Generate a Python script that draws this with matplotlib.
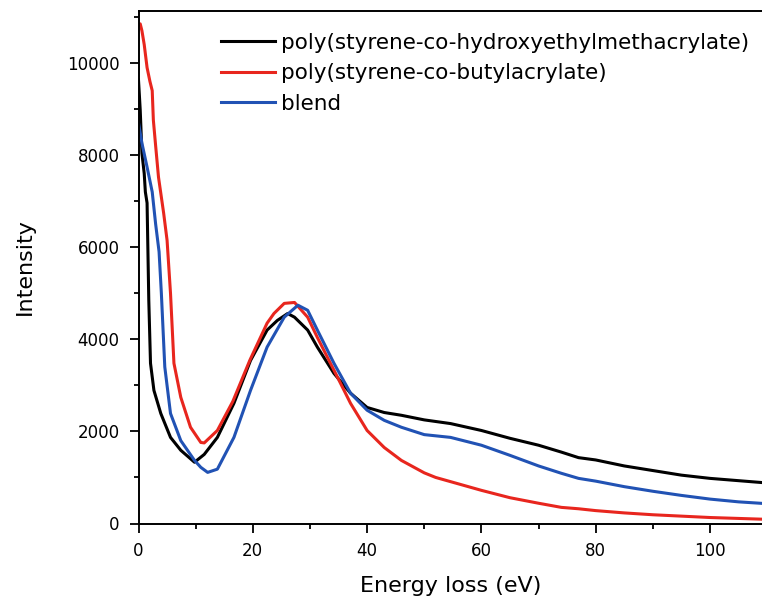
import matplotlib
matplotlib.use("Agg")
import matplotlib.pyplot as plt
from matplotlib.ticker import MultipleLocator

# poly(styrene-co-hydroxyethylmethacrylate)
e_hema = [0, 0.3, 0.6, 1.0, 1.2, 1.5, 1.8, 2.1, 2.7, 3.9, 5.6, 7.4, 9.8, 11.5,
          13.8, 16.7, 19.6, 22.5, 24.3, 26.1, 27.3, 29.6, 31.3, 34.2, 37.1, 40,
          43, 46, 50, 54.6, 60, 65, 70, 74, 77, 80, 85, 90, 95, 100, 105, 110]
i_hema = [9630, 8980, 8040, 7600, 7200, 6960, 4850, 3480, 2890, 2390, 1870, 1590,
          1330, 1500, 1870, 2610, 3540, 4200, 4410, 4560, 4480, 4200, 3830, 3260,
          2830, 2520, 2410, 2350, 2250, 2170, 2020, 1850, 1700, 1550, 1430, 1380,
          1250, 1150, 1050, 980, 930, 880]

# poly(styrene-co-butylacrylate)
e_ba = [0, 0.3, 0.6, 1.0, 1.5, 2.0, 2.4, 2.6, 3.0, 3.5, 4.4, 5.0, 5.6, 6.2, 7.4,
        9.1, 10.9, 11.5, 13.8, 16.5, 19.5, 22.5, 23.7, 25.5, 27.3, 29.6, 31.3,
        34.2, 37.1, 40, 43, 46, 50, 52, 60, 65, 70, 74, 77, 80, 85, 90, 95, 100,
        105, 110]
i_ba = [10830, 10850, 10700, 10400, 9900, 9600, 9400, 8760, 8200, 7520, 6740,
        6150, 5000, 3480, 2740, 2090, 1760, 1750, 2020, 2650, 3550, 4350, 4560,
        4780, 4800, 4480, 4040, 3330, 2610, 2020, 1650, 1370, 1100, 1000, 720,
        560, 440, 350, 320, 280, 230, 190, 160, 130, 110, 90]

# blend
e_blend = [0, 0.6, 1.5, 2.4, 3.0, 3.6, 4.0, 4.6, 5.6, 7.4, 9.8, 10.9, 12.1,
           13.8, 16.7, 19.6, 22.5, 25.5, 27.9, 29.6, 31.3, 34.2, 37.1, 40, 43,
           46, 50, 54.6, 60, 65, 70, 74, 77, 80, 85, 90, 95, 100, 105, 110]
i_blend = [8700, 8260, 7740, 7200, 6500, 5900, 5000, 3400, 2390, 1800, 1370,
           1220, 1110, 1180, 1870, 2890, 3830, 4480, 4740, 4630, 4200, 3480, 2830,
           2460, 2240, 2090, 1930, 1870, 1700, 1480, 1250, 1090, 980, 920, 800,
           700, 610, 530, 470, 430]

fig = plt.figure(figsize=(7.62, 6.0), dpi=100)
ax = fig.add_axes([138.5 / 762, 1 - 523.5 / 600, 1 - 138.5 / 762, (523.5 - 10.5) / 600])

ax.plot(e_hema, i_hema, color="black", lw=2.2, label="poly(styrene-co-hydroxyethylmethacrylate)")
ax.plot(e_ba, i_ba, color="#e8261e", lw=2.2, label="poly(styrene-co-butylacrylate)")
ax.plot(e_blend, i_blend, color="#2152b4", lw=2.2, label="blend")

ax.set_xlim(0, 109.1)
ax.set_ylim(0, 11140)
ax.xaxis.set_major_locator(MultipleLocator(20))
ax.xaxis.set_minor_locator(MultipleLocator(10))
ax.yaxis.set_major_locator(MultipleLocator(2000))
ax.yaxis.set_minor_locator(MultipleLocator(1000))

for s in ["left", "bottom", "top"]:
    ax.spines[s].set_linewidth(1.4)
ax.spines["right"].set_visible(False)

ax.tick_params(which="major", direction="out", length=6.5, width=1.3, labelsize=12, pad=7)
ax.tick_params(which="minor", direction="out", length=3.5, width=1.3)
ax.tick_params(top=False, right=False, which="both")

ax.set_xlabel("Energy loss (eV)", fontsize=16, labelpad=11)
ax.set_ylabel("Intensity", fontsize=16, labelpad=23)

leg = fig.legend(loc="upper left", bbox_to_anchor=(221 / 762, 1 - 33 / 600),
                 frameon=False, fontsize=15.5, handlelength=2.5, handletextpad=0.3,
                 labelspacing=0.48, borderpad=0, borderaxespad=0)

fig.savefig("out.png", dpi=100)
